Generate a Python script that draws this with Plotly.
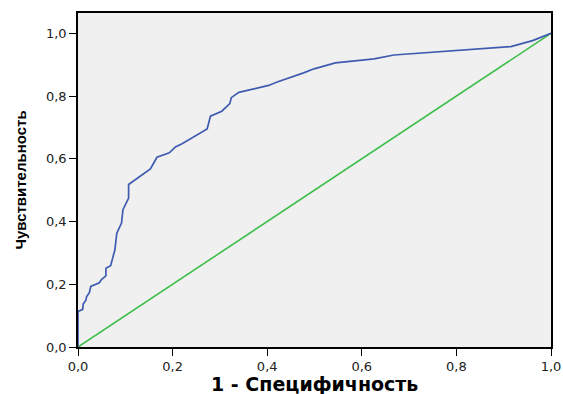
import plotly.graph_objects as go

fpr = [0.0, 0.0, 0.010, 0.011, 0.017, 0.018, 0.024, 0.027, 0.045, 0.050, 0.059, 0.059,
       0.069, 0.078, 0.082, 0.092, 0.095, 0.107, 0.107, 0.153, 0.167, 0.193, 0.206,
       0.220, 0.273, 0.280, 0.304, 0.321, 0.324, 0.340, 0.403, 0.421, 0.477, 0.499,
       0.544, 0.626, 0.668, 0.915, 0.961, 1.0]
tpr = [0.0, 0.113, 0.120, 0.137, 0.150, 0.160, 0.173, 0.193, 0.205, 0.216, 0.227, 0.251,
       0.259, 0.310, 0.363, 0.395, 0.438, 0.475, 0.518, 0.568, 0.605, 0.619, 0.638,
       0.648, 0.695, 0.736, 0.752, 0.776, 0.795, 0.812, 0.834, 0.845, 0.874, 0.887,
       0.906, 0.919, 0.931, 0.958, 0.977, 1.0]
ref_x = [0.0, 1.0]
ref_y = [0.0, 1.0]
tick_vals = [0.0, 0.2, 0.4, 0.6, 0.8, 1.0]
x_title = "1 - Специфичность"
y_title = "Чувствительность"

fig = go.Figure()
fig.add_trace(go.Scatter(x=ref_x, y=ref_y, mode="lines",
                         line=dict(color="#3DBE4A", width=1.6), hoverinfo="skip"))
fig.add_trace(go.Scatter(x=fpr, y=tpr, mode="lines",
                         line=dict(color="#3F5BB0", width=1.7)))

axis_common = dict(
    tickvals=tick_vals, tickformat=".1f", ticks="outside", ticklen=7, tickwidth=1,
    tickcolor="black", showline=True, linecolor="black", linewidth=1.5, mirror=True,
    showgrid=False, zeroline=False, automargin=False, ticklabeloverflow="allow",
    tickfont=dict(family="DejaVu Sans", size=13, color="#222222"),
)

fig.update_layout(
    width=563, height=394,
    margin=dict(l=78, r=12, t=13, b=47),
    paper_bgcolor="white", plot_bgcolor="#F0F0F0",
    showlegend=False,
    separators=", ",
    xaxis=dict(range=[0, 1], **axis_common),
    yaxis=dict(range=[0, 1.065], title=dict(text=y_title, standoff=16,
               font=dict(family="Liberation Sans", size=15, color="black", weight="bold")),
               **axis_common),
    annotations=[dict(text="<b>" + x_title + "</b>", xref="paper", yref="paper",
                      x=0.5, y=-0.149, xanchor="center", yanchor="bottom",
                      showarrow=False,
                      font=dict(family="DejaVu Sans", size=19, color="black"))],
)

fig.write_html("out.html", config={"displayModeBar": False},
               post_script="document.body.style.margin='0';")
